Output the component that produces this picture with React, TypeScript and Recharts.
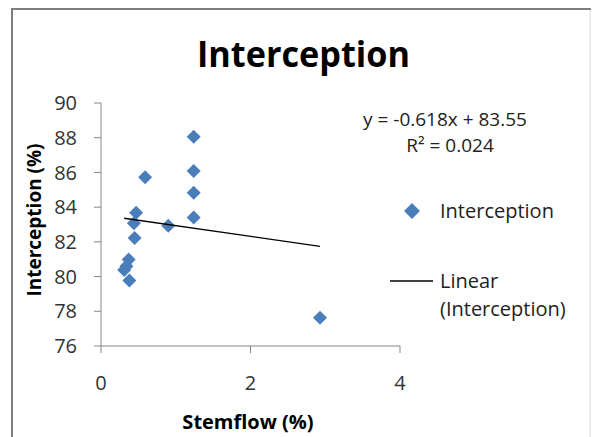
import React from 'react';
import {
    ScatterChart,
    Scatter,
    XAxis,
    YAxis,
    Legend,
} from 'recharts';

// values
const stemflow = [1.24, 1.24, 1.24, 1.24, 0.59, 0.47, 0.44, 0.45, 0.9, 0.37, 0.31, 0.38, 2.93, 0.34];
const interception = [88.06, 86.08, 84.83, 83.41, 85.72, 83.68, 83.07, 82.22, 82.93, 80.98, 80.38, 79.77, 77.63, 80.6];

// trend line end points (Excel linear trendline)
const trendX = [0.31, 2.93];
const trendY = [83.36, 81.74];

const xTicks = [0, 2, 4];
const yTicks = [76, 78, 80, 82, 84, 86, 88, 90];

const points = stemflow.map((x, i) => ({ x, y: interception[i] }));
const trend = trendX.map((x, i) => ({ x, y: trendY[i] }));

const FONT = '"Open Sans", sans-serif';
const BLUE = '#4a7ebb';

const Diamond = (props: any) => {
    const { cx, cy } = props;
    if (cx == null || cy == null) return <g />;
    const r = 7;
    return (
        <polygon
            points={`${cx},${cy - r} ${cx + r},${cy} ${cx},${cy + r} ${cx - r},${cy}`}
            fill={BLUE}
        />
    );
};

const NoShape = () => <g />;

const LegendBox = () => (
    <div style={{ fontFamily: FONT, fontSize: 20, color: '#222', lineHeight: '28px', width: 192 }}>
        <div style={{ display: 'flex', alignItems: 'center', height: 28 }}>
            <svg width={55} height={28}>
                <polygon points="27,6 35,14 27,22 19,14" fill={BLUE} />
            </svg>
            <span>Interception</span>
        </div>
        <div style={{ height: 42 }} />
        <div style={{ display: 'flex', alignItems: 'flex-start' }}>
            <svg width={55} height={28}>
                <line x1={5} y1={14} x2={48} y2={14} stroke="#000" strokeWidth={1.3} />
            </svg>
            <span>
                Linear
                <br />
                (Interception)
            </span>
        </div>
    </div>
);

export default function App() {
    return (
        <div style={{ position: 'absolute', left: 0, top: 0, width: 592, height: 437, background: '#fff' }}>
            <ScatterChart
                width={592}
                height={437}
                margin={{ top: 103, right: 0, bottom: 61, left: 0 }}
            >
                <line x1={12} y1={9} x2={591} y2={9} stroke="#7f7f7f" strokeWidth={2} />
                <line x1={12} y1={8} x2={12} y2={437} stroke="#7f7f7f" strokeWidth={2} />
                <line x1={590} y1={10} x2={590} y2={437} stroke="#d9d9d9" strokeWidth={1} />

                <text
                    x={197}
                    y={67}
                    fontFamily={FONT}
                    fontWeight={700}
                    fontSize={36}
                    textLength={213}
                    lengthAdjust="spacingAndGlyphs"
                    fill="#000"
                >
                    Interception
                </text>

                <text x={445} y={126} textAnchor="middle" fontFamily={FONT} fontSize={19} fill="#222">
                    y = -0.618x + 83.55
                </text>
                <text x={450} y={152} textAnchor="middle" fontFamily={FONT} fontSize={19} fill="#222">
                    R² = 0.024
                </text>

                <text
                    x={34}
                    y={220}
                    transform="rotate(-90, 34, 220)"
                    textAnchor="middle"
                    dominantBaseline="central"
                    fontFamily={FONT}
                    fontWeight={700}
                    fontSize={19}
                    fill="#000"
                >
                    Interception (%)
                </text>
                <text x={248} y={429} textAnchor="middle" fontFamily={FONT} fontWeight={700} fontSize={20} fill="#000">
                    Stemflow (%)
                </text>

                <XAxis
                    type="number"
                    dataKey="x"
                    domain={[0, 4]}
                    ticks={xTicks}
                    height={30}
                    tickSize={7}
                    tickMargin={23}
                    stroke="#868686"
                    tick={{ fill: '#333', fontSize: 20, fontFamily: FONT }}
                    allowDataOverflow
                />
                <YAxis
                    type="number"
                    dataKey="y"
                    domain={[76, 90]}
                    ticks={yTicks}
                    width={101}
                    tickSize={7}
                    tickMargin={17}
                    stroke="#868686"
                    tick={{ fill: '#333', fontSize: 20, fontFamily: FONT }}
                    allowDataOverflow
                />
                <Scatter
                    name="Interception"
                    data={points}
                    shape={<Diamond />}
                    fill={BLUE}
                    isAnimationActive={false}
                />
                <Scatter
                    name="Linear (Interception)"
                    data={trend}
                    line={{ stroke: '#000', strokeWidth: 1.3 }}
                    lineType="joint"
                    shape={<NoShape />}
                    isAnimationActive={false}
                    legendType="none"
                />
                <Legend
                    layout="vertical"
                    align="right"
                    verticalAlign="middle"
                    content={<LegendBox />}
                    wrapperStyle={{ position: 'absolute', left: 385, top: 197, width: 192 }}
                />
            </ScatterChart>
        </div>
    );
}
